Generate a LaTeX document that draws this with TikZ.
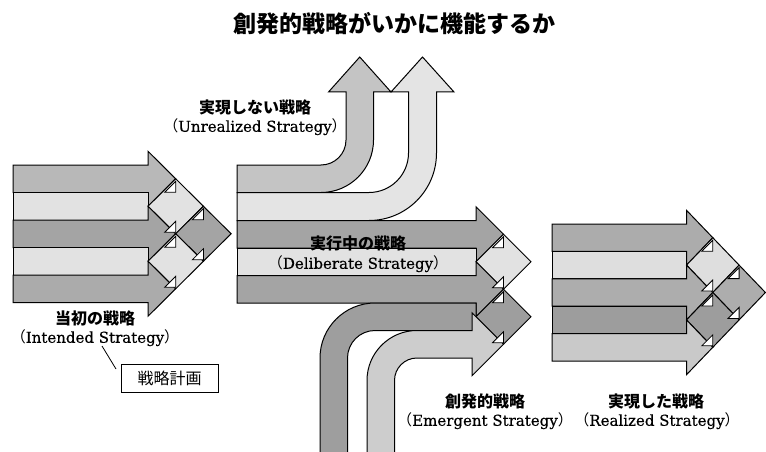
\documentclass[tikz,border=0pt]{standalone}
\usepackage{fontspec}
\newfontfamily\cjk{Noto Sans CJK JP}
\newfontfamily\enf{DejaVu Serif}[FakeBold=0.4]
\definecolor{gLa}{HTML}{B8B8B8}
\definecolor{gLb}{HTML}{E2E2E2}
\definecolor{gLc}{HTML}{A4A4A4}
\definecolor{gLe}{HTML}{ABABAB}
\definecolor{gUa}{HTML}{C4C4C4}
\definecolor{gUb}{HTML}{E4E4E4}
\definecolor{gDa}{HTML}{A4A4A4}
\definecolor{gDb}{HTML}{E2E2E2}
\definecolor{gEa}{HTML}{9E9E9E}
\definecolor{gEb}{HTML}{CDCDCD}
\definecolor{gRa}{HTML}{ACACAC}
\definecolor{gRb}{HTML}{DEDEDE}
\definecolor{gRc}{HTML}{ADADAD}
\definecolor{gRd}{HTML}{9D9D9D}
\definecolor{gRe}{HTML}{C9C9C9}
\tikzset{
  pc/.style={draw=black, line width=1pt, line join=miter},
  notchpic/.pic={\draw[fill=white, draw=black, line width=0.8pt, line join=miter] (0,0) -- (-11,0) -- (0,-11) -- cycle;},
  jp/.style={font=\cjk\bfseries\fontsize{16}{18}\selectfont, inner sep=0pt},
  en/.style={font=\enf\fontsize{15}{17}\selectfont, inner sep=0pt},
}
% #1 start x, #2 shaft end X, #3 top Y0, #4 band height, #5 horizontal step
\newcommand\mystack[5]{%
  \begin{scope}[shift={(#2,#3)}]
    \pgfmathsetmacro\U{#4}\pgfmathsetmacro\H{#5}\pgfmathsetmacro\L{#1-#2}
    \draw[pc, sA] (\L,0) -- (0,0) -- (0,-0.5*\U) -- (\H,0.5*\U) -- (0,1.5*\U) -- (0,\U) -- (\L,\U) -- cycle;
    \draw[pc, sB] (\L,\U) rectangle (0,2*\U);
    \draw[pc, sB] (0,1.5*\U) -- (\H,0.5*\U) -- (2*\H,1.5*\U) -- (\H,2.5*\U) -- cycle;
    \draw[pc, sC] (\L,2*\U) -- (0,2*\U) -- (0,1.5*\U) -- (\H,2.5*\U) -- (0,3.5*\U) -- (0,3*\U) -- (\L,3*\U) -- cycle;
    \draw[pc, sC] (\H,2.5*\U) -- (2*\H,1.5*\U) -- (3*\H,2.5*\U) -- (2*\H,3.5*\U) -- cycle;
    \draw[pc, sD] (\L,3*\U) rectangle (0,4*\U);
    \draw[pc, sD] (0,3.5*\U) -- (\H,2.5*\U) -- (2*\H,3.5*\U) -- (\H,4.5*\U) -- cycle;
    \draw[pc, sE] (\L,4*\U) -- (0,4*\U) -- (0,3.5*\U) -- (\H,4.5*\U) -- (0,5.5*\U) -- (0,5*\U) -- (\L,5*\U) -- cycle;
    \pic at (\H,0.5*\U+13.5) {notchpic};
    \pic at (2*\H,1.5*\U+13.5) {notchpic};
    \pic at (\H,2.5*\U+13.5) {notchpic};
    \pic at (\H,2.5*\U-1.5) {notchpic};
    \pic at (2*\H,3.5*\U-1.5) {notchpic};
    \pic at (\H,4.5*\U-1.5) {notchpic};
  \end{scope}}
\begin{document}
\begin{tikzpicture}[x=1pt,y=-1pt]
\useasboundingbox (0,0) rectangle (766,452);
\fill[white] (0,0) rectangle (766,452);

% title
\node[font=\cjk\bfseries\fontsize{23}{26}\selectfont, inner sep=0pt] (title) at (394,24) {創発的戦略がいかに機能するか};

% left stack: intended strategy
\begin{scope}[sA/.style={fill=gLa}, sB/.style={fill=gLb}, sC/.style={fill=gLc}, sD/.style={fill=gLb}, sE/.style={fill=gLe}]
  \mystack{13}{148}{165}{27.5}{27.7}
\end{scope}

% unrealized curved arrows
\draw[pc, fill=gUa] (237,165) -- (321,165) arc[start angle=90, end angle=0, radius=25]
  -- (346,92) -- (328.5,92) -- (359.75,57) -- (391,92) -- (373.5,92) -- (373.5,140)
  arc[start angle=0, end angle=90, radius=52.5] -- (237,192.5) -- cycle;
\draw[pc, fill=gUb] (237,192.5) -- (369,192.5) arc[start angle=90, end angle=0, radius=39.5]
  -- (408.5,92) -- (391,92) -- (422.5,57) -- (454,92) -- (436.5,92) -- (436.5,153)
  arc[start angle=0, end angle=90, radius=67.5] -- (237,220.5) -- cycle;

% deliberate rows
\draw[pc, fill=gDa] (237,220.5) -- (476,220.5) -- (476,206.75) -- (503.5,234.25) -- (476,261.75) -- (476,248) -- (237,248) -- cycle;
\draw[pc, fill=gDb] (237,248) rectangle (476,275.5);
\draw[pc, fill=gDb] (476,261.75) -- (503.5,234.25) -- (531,261.75) -- (503.5,289.25) -- cycle;
\draw[pc, fill=gDa] (237,275.5) -- (476,275.5) -- (476,261.75) -- (503.5,289.25) -- (476,316.75) -- (476,303) -- (237,303) -- cycle;

% emergent curved arrows
\draw[pc, fill=gEa] (320,470) -- (320,358) arc[start angle=180, end angle=270, radius=55]
  -- (476,303) -- (476,330.5) -- (375,330.5) arc[start angle=270, end angle=180, radius=27.5]
  -- (347.5,470) -- cycle;
\draw[pc, fill=gEa] (476,316.75) -- (503.5,289.25) -- (531,316.75) -- (503.5,344.25) -- cycle;
\draw[pc, fill=gEb] (367,470) -- (367,380.5) arc[start angle=180, end angle=270, radius=50]
  -- (472,330.5) -- (472,312.75) -- (503.5,344.25) -- (472,375.75) -- (472,358) -- (417,358)
  arc[start angle=270, end angle=180, radius=22.5] -- (394.5,470) -- cycle;
\pic at (503.5,247.75) {notchpic};
\pic at (503.5,287.75) {notchpic};
\pic at (503.5,302.75) {notchpic};
\pic at (503.5,342.75) {notchpic};

% right stack: realized strategy
\begin{scope}[sA/.style={fill=gRa}, sB/.style={fill=gRb}, sC/.style={fill=gRc}, sD/.style={fill=gRd}, sE/.style={fill=gRe}]
  \mystack{552}{686.5}{224}{27.4}{26.3}
\end{scope}

% labels
\node[jp] (unrj) at (255,107) {実現しない戦略};
\node[en] (unre) at (255,127) {{\cjk （}Unrealized Strategy{\cjk ）}};
\node[jp] (delj) at (358,243) {実行中の戦略};
\node[en] (dele) at (358,264) {{\cjk （}Deliberate Strategy{\cjk ）}};
\node[jp] (intj) at (95,318) {当初の戦略};
\node[en] (inte) at (95,338) {{\cjk （}Intended Strategy{\cjk ）}};
\node[jp] (emej) at (485,401) {創発的戦略};
\node[en] (emee) at (485,421) {{\cjk （}Emergent Strategy{\cjk ）}};
\node[jp] (reaj) at (656,401) {実現した戦略};
\node[en] (reae) at (657,421) {{\cjk （}Realized Strategy{\cjk ）}};

\node[draw=black, line width=1pt, minimum width=97pt, minimum height=28pt, inner sep=0pt,
      font=\cjk\fontsize{16}{18}\selectfont] (plan) at (169.5,378) {戦略計画};
\coordinate (ls) at (102,346);
\coordinate (le) at (116,369);
\draw[line width=0.8pt] (ls) -- (le);
\end{tikzpicture}
\end{document}
